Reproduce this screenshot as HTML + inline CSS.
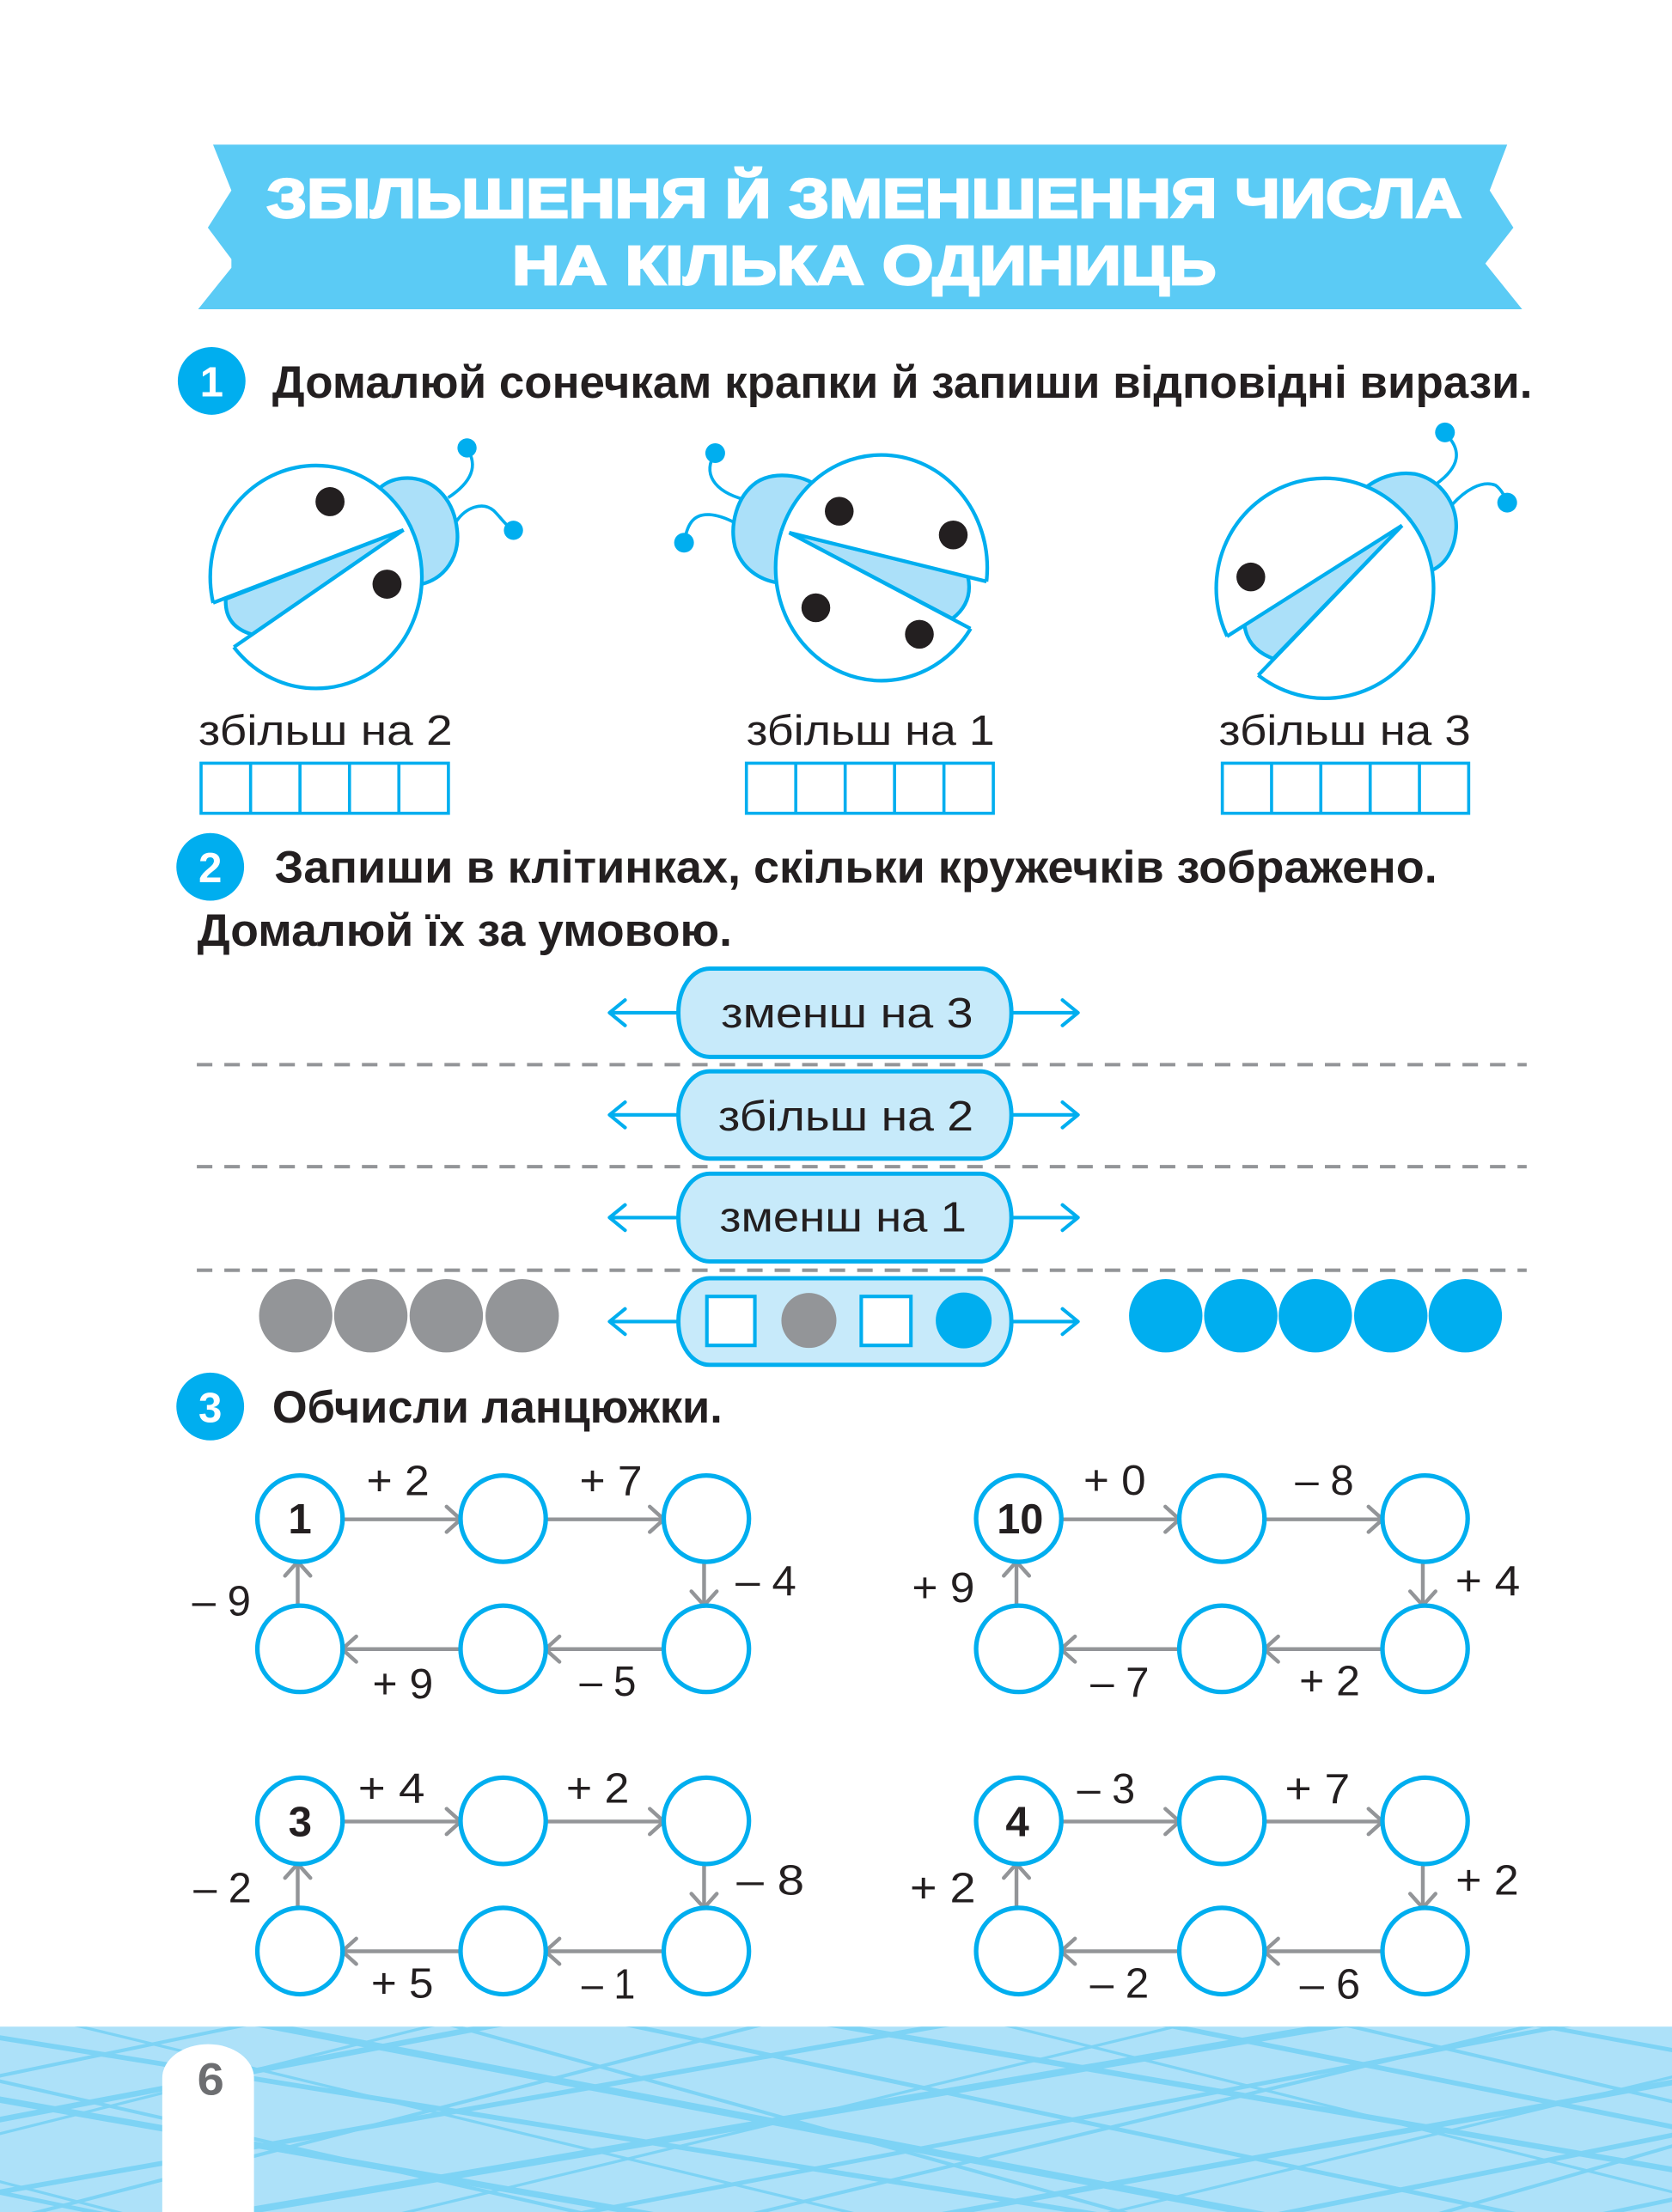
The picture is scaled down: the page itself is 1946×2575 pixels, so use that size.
<!DOCTYPE html>
<html>
<head>
<meta charset="utf-8">
<style>
html,body{margin:0;padding:0;background:#fff;}
svg{display:block;}
text{font-family:"Liberation Sans",sans-serif;}
</style>
</head>
<body>
<svg xmlns="http://www.w3.org/2000/svg" width="1946" height="2575" viewBox="0 0 1185 1568" preserveAspectRatio="none">
<defs>
<clipPath id="fc"><rect x="0" y="1436.6" width="1185" height="132"/></clipPath>
<clipPath id="u1"><polygon points="-110.9,527.7 550.6,274.2 550.6,0 -110.9,0"/></clipPath>
<clipPath id="l1"><polygon points="-64.1,617.7 519.4,214.2 700,214.2 700,700 -64.1,700"/></clipPath>
<clipPath id="u2"><polygon points="283.3,309.4 973.3,479.9 973.3,0 283.3,0"/></clipPath>
<clipPath id="l2"><polygon points="309.7,245.6 933.7,575.6 933.7,775.6 309.7,775.6"/></clipPath>
<clipPath id="u3"><polygon points="631.3,602 1235.3,219.5 1235.3,0 631.3,0"/></clipPath>
<clipPath id="l3"><polygon points="698.2,680 1190.7,167.5 1250,167.5 1250,700 698.2,700"/></clipPath>
</defs>
<rect x="0" y="0" width="1185" height="1568" fill="#fff"/>

<!-- Banner -->
<polygon points="151,102.5 1068.2,102.5 1055.8,135 1072.6,161.4 1052.7,186.8 1078.8,219.2 140.4,219.2 164,189.8 164,183.7 147.3,161.4 164,135" fill="#5BCBF5"/>
<text x="189" y="154" font-size="39" font-weight="bold" fill="#fff" stroke="#fff" stroke-width="1.6" textLength="847" lengthAdjust="spacingAndGlyphs">ЗБІЛЬШЕННЯ Й ЗМЕНШЕННЯ ЧИСЛА</text>
<text x="363" y="201.6" font-size="39" font-weight="bold" fill="#fff" stroke="#fff" stroke-width="1.6" textLength="499" lengthAdjust="spacingAndGlyphs">НА КІЛЬКА ОДИНИЦЬ</text>

<!-- Section 1 -->
<circle cx="150" cy="270" r="24" fill="#00AEEF"/>
<text x="150" y="281" font-size="30" font-weight="bold" fill="#fff" text-anchor="middle">1</text>
<text x="193" y="282" font-size="32" font-weight="bold" fill="#231F20" textLength="893" lengthAdjust="spacingAndGlyphs">Домалюй сонечкам крапки й запиши відповідні вирази.</text>

<!-- Ladybug 1 -->
<g stroke="#00AEEF" stroke-width="2.6" stroke-linejoin="round">
<path d="M317.6 352.8 Q343 336 331 318" fill="none" stroke-width="2.2"/>
<path d="M323.6 369.4 C330 360 342 355 350 362 C355 367 358 372 363.9 375.9" fill="none" stroke-width="2.2"/>
<path d="M262 358 C266 344 278 338 292 339 C310 341 322 356 324 376 C326 395 315 410 299 414 L270 400 Z" fill="#ABE0F9"/>
<path d="M286 375.6 L160 424.6 Q159 444 178.6 449.7 Z" fill="#ABE0F9"/>
<ellipse cx="224" cy="409" rx="75" ry="79" fill="#fff" clip-path="url(#l1)"/>
<ellipse cx="224" cy="409" rx="75" ry="79" fill="#fff" clip-path="url(#u1)"/>
<line x1="286" y1="375.6" x2="151" y2="427.3"/>
<line x1="286" y1="375.6" x2="165.8" y2="458.7"/>
</g>
<circle cx="331" cy="317.5" r="6.8" fill="#00AEEF"/>
<circle cx="363.9" cy="375.9" r="6.8" fill="#00AEEF"/>
<circle cx="233.9" cy="355.6" r="10.3" fill="#231F20"/>
<circle cx="274.3" cy="414.1" r="10.3" fill="#231F20"/>

<!-- Ladybug 2 -->
<g stroke="#00AEEF" stroke-width="2.6" stroke-linejoin="round">
<path d="M527.8 354.2 C505 348 498 335 506.9 321.2" fill="none" stroke-width="2.2"/>
<path d="M520.7 370.5 C508 364 496 362 490 370 C487 374 486 379 484.8 384.7" fill="none" stroke-width="2.2"/>
<path d="M580 345 C568 336 548 334 536 342 C522 352 517 372 521 388 C526 403 538 411 551 413 L575 390 Z" fill="#ABE0F9"/>
<path d="M559.3 377.6 L686 408.7 Q690 427 675 438.5 Z" fill="#ABE0F9"/>
<ellipse cx="624.7" cy="402.5" rx="75" ry="80" fill="#fff" clip-path="url(#l2)"/>
<ellipse cx="624.7" cy="402.5" rx="75" ry="80" fill="#fff" clip-path="url(#u2)"/>
<line x1="559.3" y1="377.6" x2="699.2" y2="412.2"/>
<line x1="559.3" y1="377.6" x2="687.8" y2="445.6"/>
</g>
<circle cx="506.9" cy="321.2" r="7" fill="#00AEEF"/>
<circle cx="484.8" cy="384.7" r="7" fill="#00AEEF"/>
<circle cx="594.8" cy="362.4" r="10.2" fill="#231F20"/>
<circle cx="675.6" cy="379.2" r="10.2" fill="#231F20"/>
<circle cx="578.2" cy="430.8" r="10.2" fill="#231F20"/>
<circle cx="651.6" cy="449.6" r="10.2" fill="#231F20"/>

<!-- Ladybug 3 -->
<g stroke="#00AEEF" stroke-width="2.6" stroke-linejoin="round">
<path d="M1018 343 Q1043 325 1024 307" fill="none" stroke-width="2.2"/>
<path d="M1029.2 357.7 C1038 348 1050 340 1060 344 C1064 347 1066 351 1068.2 356.3" fill="none" stroke-width="2.2"/>
<path d="M963 350 C975 338 990 334 1003 336 C1021 340 1033 357 1032 375 C1031 390 1024 401 1013 405 L985 380 Z" fill="#ABE0F9"/>
<path d="M993.7 372.5 L882 443 Q884 460 902.4 466.9 Z" fill="#ABE0F9"/>
<ellipse cx="939" cy="417" rx="77" ry="78" fill="#fff" clip-path="url(#l3)"/>
<ellipse cx="939" cy="417" rx="77" ry="78" fill="#fff" clip-path="url(#u3)"/>
<line x1="993.7" y1="372.5" x2="869.6" y2="451.1"/>
<line x1="993.7" y1="372.5" x2="891.8" y2="478.6"/>
</g>
<circle cx="1024.1" cy="306.5" r="7" fill="#00AEEF"/>
<circle cx="1068.2" cy="356.3" r="7" fill="#00AEEF"/>
<circle cx="886.5" cy="409" r="10.2" fill="#231F20"/>

<!-- Ladybug labels -->
<text x="140.7" y="527.8" font-size="30" fill="#231F20" textLength="180" lengthAdjust="spacingAndGlyphs">збільш  на  2</text>
<text x="529" y="527.8" font-size="30" fill="#231F20" textLength="176" lengthAdjust="spacingAndGlyphs">збільш  на  1</text>
<text x="863.8" y="527.8" font-size="30" fill="#231F20" textLength="178.6" lengthAdjust="spacingAndGlyphs">збільш  на  3</text>

<!-- Boxes -->
<g fill="none" stroke="#00AEEF" stroke-width="2.2">
<rect x="142.5" y="541" width="175.3" height="35.5"/>
<line x1="177.6" y1="541" x2="177.6" y2="576.5"/><line x1="212.6" y1="541" x2="212.6" y2="576.5"/><line x1="247.7" y1="541" x2="247.7" y2="576.5"/><line x1="282.7" y1="541" x2="282.7" y2="576.5"/>
<rect x="529" y="541" width="175" height="35.5"/>
<line x1="564" y1="541" x2="564" y2="576.5"/><line x1="599" y1="541" x2="599" y2="576.5"/><line x1="634" y1="541" x2="634" y2="576.5"/><line x1="669" y1="541" x2="669" y2="576.5"/>
<rect x="866.3" y="541" width="174.6" height="35.5"/>
<line x1="901.2" y1="541" x2="901.2" y2="576.5"/><line x1="936.1" y1="541" x2="936.1" y2="576.5"/><line x1="971.1" y1="541" x2="971.1" y2="576.5"/><line x1="1006" y1="541" x2="1006" y2="576.5"/>
</g>

<!-- Section 2 -->
<circle cx="149" cy="614.5" r="24" fill="#00AEEF"/>
<text x="149" y="625.5" font-size="30" font-weight="bold" fill="#fff" text-anchor="middle">2</text>
<text x="194.6" y="625.7" font-size="32" font-weight="bold" fill="#231F20" textLength="824" lengthAdjust="spacingAndGlyphs">Запиши в клітинках, скільки кружечків зображено.</text>
<text x="139.8" y="670.4" font-size="32" font-weight="bold" fill="#231F20" textLength="379" lengthAdjust="spacingAndGlyphs">Домалюй їх за умовою.</text>

<!-- dashed lines -->
<g stroke="#939598" stroke-width="2.5" stroke-dasharray="11 8.5">
<line x1="139.5" y1="754.7" x2="1082" y2="754.7"/>
<line x1="139.5" y1="827" x2="1082" y2="827"/>
<line x1="139.5" y1="900.4" x2="1082" y2="900.4"/>
</g>

<!-- pill arrows -->
<g stroke="#00AEEF" stroke-width="2.5" fill="none" stroke-linecap="round" stroke-linejoin="round">
<line x1="481" y1="717.9" x2="433" y2="717.9"/><polyline points="443,708.9 432,717.9 443,726.9"/>
<line x1="716" y1="717.9" x2="763" y2="717.9"/><polyline points="753,708.9 764,717.9 753,726.9"/>
<line x1="481" y1="790.3" x2="433" y2="790.3"/><polyline points="443,781.3 432,790.3 443,799.3"/>
<line x1="716" y1="790.3" x2="763" y2="790.3"/><polyline points="753,781.3 764,790.3 753,799.3"/>
<line x1="481" y1="863.1" x2="433" y2="863.1"/><polyline points="443,854.1 432,863.1 443,872.1"/>
<line x1="716" y1="863.1" x2="763" y2="863.1"/><polyline points="753,854.1 764,863.1 753,872.1"/>
<line x1="481" y1="936.8" x2="433" y2="936.8"/><polyline points="443,927.8 432,936.8 443,945.8"/>
<line x1="716" y1="936.8" x2="763" y2="936.8"/><polyline points="753,927.8 764,936.8 753,945.8"/>
</g>

<!-- pills -->
<g fill="#C7EAFA" stroke="#00AEEF" stroke-width="3">
<rect x="480.8" y="686.6" width="236" height="62.6" rx="22" ry="31"/>
<rect x="480.8" y="759.4" width="236" height="61.9" rx="22" ry="31"/>
<rect x="480.8" y="832" width="236" height="62.2" rx="22" ry="31"/>
<rect x="480.8" y="906.1" width="236" height="61.4" rx="22" ry="30.7"/>
</g>
<text x="511" y="728.3" font-size="30" fill="#231F20" textLength="178.7" lengthAdjust="spacingAndGlyphs">зменш  на  3</text>
<text x="509" y="801.4" font-size="30" fill="#231F20" textLength="181" lengthAdjust="spacingAndGlyphs">збільш  на  2</text>
<text x="510" y="873" font-size="30" fill="#231F20" textLength="175" lengthAdjust="spacingAndGlyphs">зменш  на  1</text>

<!-- pill 4 contents -->
<rect x="501" y="919" width="34" height="34.7" fill="#fff" stroke="#00AEEF" stroke-width="2.5"/>
<circle cx="573.3" cy="936" r="19.5" fill="#939598"/>
<rect x="610.4" y="919" width="35.2" height="34.7" fill="#fff" stroke="#00AEEF" stroke-width="2.5"/>
<circle cx="683" cy="936" r="19.8" fill="#00AEEF"/>

<!-- gray circles -->
<g fill="#939598">
<circle cx="209.6" cy="932.7" r="26"/>
<circle cx="262.8" cy="932.7" r="26"/>
<circle cx="316.3" cy="932.7" r="26"/>
<circle cx="370.1" cy="932.7" r="26"/>
</g>
<!-- blue circles -->
<g fill="#00AEEF">
<circle cx="826.2" cy="932.7" r="26"/>
<circle cx="879.4" cy="932.7" r="26"/>
<circle cx="932.2" cy="932.7" r="26"/>
<circle cx="985.7" cy="932.7" r="26"/>
<circle cx="1038.5" cy="932.7" r="26"/>
</g>

<!-- Section 3 -->
<circle cx="149" cy="997" r="24" fill="#00AEEF"/>
<text x="149" y="1008" font-size="30" font-weight="bold" fill="#fff" text-anchor="middle">3</text>
<text x="193" y="1008.5" font-size="32" font-weight="bold" fill="#231F20" textLength="319" lengthAdjust="spacingAndGlyphs">Обчисли ланцюжки.</text>

<!-- Chains: arrows -->
<g stroke="#939598" stroke-width="2.7" fill="none" stroke-linecap="round" stroke-linejoin="round">
<line x1="243" y1="1077" x2="326" y2="1077"/><polyline points="316.5,1068 326.5,1077 316.5,1086"/>
<line x1="387" y1="1077" x2="470" y2="1077"/><polyline points="460.5,1068 470.5,1077 460.5,1086"/>
<line x1="470" y1="1169" x2="387" y2="1169"/><polyline points="396.5,1160 386.5,1169 396.5,1178"/>
<line x1="326" y1="1169" x2="243" y2="1169"/><polyline points="252.5,1160 242.5,1169 252.5,1178"/>
<line x1="499" y1="1107" x2="499" y2="1138"/><polyline points="490,1128 499,1138 508,1128"/>
<line x1="211" y1="1138" x2="211" y2="1107"/><polyline points="202,1117 211,1107 220,1117"/>

<line x1="752.4" y1="1077" x2="835.4" y2="1077"/><polyline points="825.9,1068 835.9,1077 825.9,1086"/>
<line x1="896.4" y1="1077" x2="979.4" y2="1077"/><polyline points="969.9,1068 979.9,1077 969.9,1086"/>
<line x1="979.4" y1="1169" x2="896.4" y2="1169"/><polyline points="905.9,1160 895.9,1169 905.9,1178"/>
<line x1="835.4" y1="1169" x2="752.4" y2="1169"/><polyline points="761.9,1160 751.9,1169 761.9,1178"/>
<line x1="1008.4" y1="1107" x2="1008.4" y2="1138"/><polyline points="999.4,1128 1008.4,1138 1017.4,1128"/>
<line x1="720.4" y1="1138" x2="720.4" y2="1107"/><polyline points="711.4,1117 720.4,1107 729.4,1117"/>

<line x1="243" y1="1291.2" x2="326" y2="1291.2"/><polyline points="316.5,1282.2 326.5,1291.2 316.5,1300.2"/>
<line x1="387" y1="1291.2" x2="470" y2="1291.2"/><polyline points="460.5,1282.2 470.5,1291.2 460.5,1300.2"/>
<line x1="470" y1="1383.2" x2="387" y2="1383.2"/><polyline points="396.5,1374.2 386.5,1383.2 396.5,1392.2"/>
<line x1="326" y1="1383.2" x2="243" y2="1383.2"/><polyline points="252.5,1374.2 242.5,1383.2 252.5,1392.2"/>
<line x1="499" y1="1321.2" x2="499" y2="1352.4"/><polyline points="490,1342.4 499,1352.4 508,1342.4"/>
<line x1="211" y1="1352.4" x2="211" y2="1321.2"/><polyline points="202,1331.2 211,1321.2 220,1331.2"/>

<line x1="752.4" y1="1291.2" x2="835.4" y2="1291.2"/><polyline points="825.9,1282.2 835.9,1291.2 825.9,1300.2"/>
<line x1="896.4" y1="1291.2" x2="979.4" y2="1291.2"/><polyline points="969.9,1282.2 979.9,1291.2 969.9,1300.2"/>
<line x1="979.4" y1="1383.2" x2="896.4" y2="1383.2"/><polyline points="905.9,1374.2 895.9,1383.2 905.9,1392.2"/>
<line x1="835.4" y1="1383.2" x2="752.4" y2="1383.2"/><polyline points="761.9,1374.2 751.9,1383.2 761.9,1392.2"/>
<line x1="1008.4" y1="1321.2" x2="1008.4" y2="1352.4"/><polyline points="999.4,1342.4 1008.4,1352.4 1017.4,1342.4"/>
<line x1="720.4" y1="1352.4" x2="720.4" y2="1321.2"/><polyline points="711.4,1331.2 720.4,1321.2 729.4,1331.2"/>
</g>

<!-- Chains: circles -->
<g fill="#fff" stroke="#00AEEF" stroke-width="3.2">
<ellipse cx="212.6" cy="1076.5" rx="30.2" ry="30.6"/><ellipse cx="356.6" cy="1076.5" rx="30.2" ry="30.6"/><ellipse cx="500.6" cy="1076.5" rx="30.2" ry="30.6"/>
<ellipse cx="212.6" cy="1168.8" rx="30.2" ry="30.6"/><ellipse cx="356.6" cy="1168.8" rx="30.2" ry="30.6"/><ellipse cx="500.6" cy="1168.8" rx="30.2" ry="30.6"/>
<ellipse cx="722" cy="1076.5" rx="30.2" ry="30.6"/><ellipse cx="866" cy="1076.5" rx="30.2" ry="30.6"/><ellipse cx="1010" cy="1076.5" rx="30.2" ry="30.6"/>
<ellipse cx="722" cy="1168.8" rx="30.2" ry="30.6"/><ellipse cx="866" cy="1168.8" rx="30.2" ry="30.6"/><ellipse cx="1010" cy="1168.8" rx="30.2" ry="30.6"/>
<ellipse cx="212.6" cy="1290.7" rx="30.2" ry="30.6"/><ellipse cx="356.6" cy="1290.7" rx="30.2" ry="30.6"/><ellipse cx="500.6" cy="1290.7" rx="30.2" ry="30.6"/>
<ellipse cx="212.6" cy="1383" rx="30.2" ry="30.6"/><ellipse cx="356.6" cy="1383" rx="30.2" ry="30.6"/><ellipse cx="500.6" cy="1383" rx="30.2" ry="30.6"/>
<ellipse cx="722" cy="1290.7" rx="30.2" ry="30.6"/><ellipse cx="866" cy="1290.7" rx="30.2" ry="30.6"/><ellipse cx="1010" cy="1290.7" rx="30.2" ry="30.6"/>
<ellipse cx="722" cy="1383" rx="30.2" ry="30.6"/><ellipse cx="866" cy="1383" rx="30.2" ry="30.6"/><ellipse cx="1010" cy="1383" rx="30.2" ry="30.6"/>
</g>

<!-- numbers in circles -->
<g font-size="30" font-weight="bold" fill="#231F20" text-anchor="middle">
<text x="212.6" y="1087">1</text>
<text x="723" y="1087" textLength="33" lengthAdjust="spacingAndGlyphs">10</text>
<text x="212.7" y="1301.7">3</text>
<text x="721" y="1301.7">4</text>
</g>

<!-- chain labels -->
<g font-size="30" fill="#231F20">
<text x="259.7" y="1060" textLength="44.6" lengthAdjust="spacingAndGlyphs">+ 2</text>
<text x="410.7" y="1060" textLength="44.5" lengthAdjust="spacingAndGlyphs">+ 7</text>
<text x="521.3" y="1130.7" textLength="43.1" lengthAdjust="spacingAndGlyphs">– 4</text>
<text x="136.2" y="1145" textLength="41.6" lengthAdjust="spacingAndGlyphs">– 9</text>
<text x="264" y="1203.8" textLength="43" lengthAdjust="spacingAndGlyphs">+ 9</text>
<text x="410.7" y="1202" textLength="40.2" lengthAdjust="spacingAndGlyphs">– 5</text>

<text x="767.9" y="1059.7" textLength="44.2" lengthAdjust="spacingAndGlyphs">+ 0</text>
<text x="917.9" y="1059.7" textLength="41.6" lengthAdjust="spacingAndGlyphs">– 8</text>
<text x="1031.4" y="1130.7" textLength="46" lengthAdjust="spacingAndGlyphs">+ 4</text>
<text x="646.3" y="1135.8" textLength="44.5" lengthAdjust="spacingAndGlyphs">+ 9</text>
<text x="772.8" y="1202.8" textLength="41.7" lengthAdjust="spacingAndGlyphs">– 7</text>
<text x="920.8" y="1201.8" textLength="43.1" lengthAdjust="spacingAndGlyphs">+ 2</text>

<text x="253.8" y="1277.9" textLength="47.3" lengthAdjust="spacingAndGlyphs">+ 4</text>
<text x="401.2" y="1277.9" textLength="44.8" lengthAdjust="spacingAndGlyphs">+ 2</text>
<text x="522.1" y="1342.9" textLength="47.9" lengthAdjust="spacingAndGlyphs">– 8</text>
<text x="137.2" y="1348.4" textLength="41.1" lengthAdjust="spacingAndGlyphs">– 2</text>
<text x="263" y="1416" textLength="44.2" lengthAdjust="spacingAndGlyphs">+ 5</text>
<text x="412.2" y="1416.6" textLength="38" lengthAdjust="spacingAndGlyphs">– 1</text>

<text x="763.4" y="1278" textLength="41.1" lengthAdjust="spacingAndGlyphs">– 3</text>
<text x="910.7" y="1278" textLength="46.1" lengthAdjust="spacingAndGlyphs">+ 7</text>
<text x="1031.7" y="1343" textLength="44.7" lengthAdjust="spacingAndGlyphs">+ 2</text>
<text x="644.9" y="1348.4" textLength="46.6" lengthAdjust="spacingAndGlyphs">+ 2</text>
<text x="772.5" y="1416" textLength="41.8" lengthAdjust="spacingAndGlyphs">– 2</text>
<text x="921.2" y="1416.6" textLength="42.9" lengthAdjust="spacingAndGlyphs">– 6</text>
</g>

<!-- Footer -->
<rect x="0" y="1436.6" width="1185" height="132" fill="#ADE1F9"/>
<g clip-path="url(#fc)" stroke="#7DD3F5" fill="none">
<line x1="-600" y1="1430" x2="100" y2="1575" stroke-width="3"/>
<line x1="-450" y1="1430" x2="110" y2="1575" stroke-width="2"/>
<line x1="-330" y1="1430" x2="490" y2="1575" stroke-width="4.5"/>
<line x1="-200" y1="1430" x2="440" y2="1575" stroke-width="2.5"/>
<line x1="-90" y1="1430" x2="810" y2="1575" stroke-width="3.5"/>
<line x1="30" y1="1430" x2="630" y2="1575" stroke-width="2"/>
<line x1="160" y1="1430" x2="920" y2="1575" stroke-width="5"/>
<line x1="300" y1="1430" x2="820" y2="1575" stroke-width="2.5"/>
<line x1="420" y1="1430" x2="1100" y2="1575" stroke-width="3"/>
<line x1="560" y1="1430" x2="1400" y2="1575" stroke-width="4"/>
<line x1="690" y1="1430" x2="1270" y2="1575" stroke-width="2"/>
<line x1="800" y1="1430" x2="1520" y2="1575" stroke-width="3.5"/>
<line x1="930" y1="1430" x2="1550" y2="1575" stroke-width="2.5"/>
<line x1="1060" y1="1430" x2="1840" y2="1575" stroke-width="3"/>
<line x1="-500" y1="1575" x2="200" y2="1430" stroke-width="2.5"/>
<line x1="-380" y1="1575" x2="380" y2="1430" stroke-width="4"/>
<line x1="-250" y1="1575" x2="330" y2="1430" stroke-width="2"/>
<line x1="-120" y1="1575" x2="700" y2="1430" stroke-width="3.5"/>
<line x1="0" y1="1575" x2="560" y2="1430" stroke-width="2.5"/>
<line x1="130" y1="1575" x2="980" y2="1430" stroke-width="5"/>
<line x1="260" y1="1575" x2="860" y2="1430" stroke-width="2"/>
<line x1="380" y1="1575" x2="1140" y2="1430" stroke-width="3"/>
<line x1="510" y1="1575" x2="1110" y2="1430" stroke-width="2.5"/>
<line x1="640" y1="1575" x2="1440" y2="1430" stroke-width="4"/>
<line x1="760" y1="1575" x2="1360" y2="1430" stroke-width="2"/>
<line x1="880" y1="1575" x2="1600" y2="1430" stroke-width="3.5"/>
<line x1="1000" y1="1575" x2="1500" y2="1430" stroke-width="2.5"/>
<line x1="1110" y1="1575" x2="1800" y2="1430" stroke-width="3"/>
</g>
<path d="M115 1568 L115 1473 A32.5 24 0 0 1 180 1473 L180 1568 Z" fill="#fff"/>
<text x="139.8" y="1485" font-size="32" font-weight="bold" fill="#6D6E71" textLength="19" lengthAdjust="spacingAndGlyphs">6</text>
</svg>
</body>
</html>
